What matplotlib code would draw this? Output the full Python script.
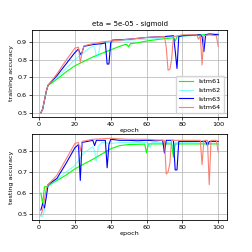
import matplotlib
matplotlib.use("Agg")
import matplotlib.pyplot as plt

# ---------------------------------------------------------------------------- #
# training accuracy (top panel)

train61_ep = [1, 2, 3, 4, 5, 8, 10, 15, 20, 25, 30, 35, 40, 45, 48, 49, 50, 51, 55, 60, 65, 70, 74, 75, 76, 77, 80, 85, 90, 95, 100]
train61 = [0.50, 0.52, 0.57, 0.62, 0.655, 0.675, 0.69, 0.73, 0.765, 0.79, 0.815, 0.835, 0.855, 0.875, 0.885, 0.885, 0.872, 0.89, 0.895, 0.905, 0.912, 0.918, 0.922, 0.924, 0.905, 0.928, 0.935, 0.937, 0.94, 0.942, 0.944]

train62_ep = [1, 2, 3, 4, 5, 10, 15, 20, 25, 28, 30, 31, 32, 33, 34, 35, 40, 45, 50, 55, 60, 65, 70, 75, 80, 85, 90, 95, 100]
train62 = [0.50, 0.52, 0.57, 0.62, 0.655, 0.70, 0.75, 0.80, 0.84, 0.865, 0.875, 0.87, 0.818, 0.82, 0.875, 0.89, 0.90, 0.905, 0.91, 0.912, 0.915, 0.918, 0.925, 0.93, 0.932, 0.935, 0.937, 0.94, 0.94]

train63_ep = [1, 2, 3, 4, 5, 10, 15, 20, 22, 23, 24, 25, 30, 35, 37, 38, 39, 40, 41, 45, 50, 55, 60, 65, 70, 75, 76, 77, 78, 80, 85, 90, 91, 92, 93, 95, 100]
train63 = [0.50, 0.52, 0.57, 0.62, 0.655, 0.71, 0.775, 0.84, 0.86, 0.83, 0.84, 0.875, 0.885, 0.89, 0.895, 0.775, 0.775, 0.895, 0.91, 0.912, 0.915, 0.92, 0.925, 0.928, 0.93, 0.935, 0.85, 0.75, 0.93, 0.935, 0.938, 0.94, 0.93, 0.845, 0.94, 0.945, 0.94]

train64_ep = [1, 2, 3, 4, 5, 10, 15, 20, 22, 23, 24, 25, 30, 35, 40, 45, 50, 55, 60, 65, 70, 71, 72, 73, 74, 75, 80, 85, 88, 89, 90, 91, 92, 95, 99, 100]
train64 = [0.50, 0.52, 0.57, 0.62, 0.655, 0.72, 0.795, 0.865, 0.87, 0.785, 0.84, 0.878, 0.89, 0.90, 0.905, 0.91, 0.915, 0.92, 0.925, 0.928, 0.93, 0.87, 0.74, 0.745, 0.80, 0.93, 0.94, 0.94, 0.94, 0.915, 0.935, 0.77, 0.935, 0.94, 0.935, 0.875]

# testing accuracy (bottom panel)

test61_ep = [1, 2, 3, 4, 5, 10, 15, 20, 25, 30, 35, 40, 45, 50, 55, 59, 60, 61, 65, 70, 74, 75, 76, 80, 90, 100]
test61 = [0.60, 0.55, 0.63, 0.63, 0.635, 0.66, 0.685, 0.715, 0.738, 0.76, 0.785, 0.81, 0.825, 0.83, 0.831, 0.832, 0.79, 0.833, 0.833, 0.833, 0.833, 0.77, 0.833, 0.833, 0.833, 0.833]

test62_ep = [1, 2, 3, 4, 5, 10, 15, 20, 25, 30, 31, 32, 33, 35, 40, 45, 50, 55, 60, 61, 62, 63, 70, 74, 75, 76, 80, 90, 100]
test62 = [0.49, 0.49, 0.52, 0.60, 0.63, 0.665, 0.70, 0.73, 0.79, 0.82, 0.80, 0.75, 0.82, 0.84, 0.835, 0.84, 0.84, 0.84, 0.84, 0.835, 0.815, 0.84, 0.84, 0.84, 0.80, 0.84, 0.84, 0.838, 0.835]

test63_ep = [1, 2, 3, 4, 5, 10, 15, 20, 22, 23, 24, 30, 31, 32, 37, 38, 39, 40, 45, 50, 55, 60, 65, 69, 70, 71, 75, 76, 77, 78, 80, 85, 90, 93, 94, 95, 100]
test63 = [0.52, 0.55, 0.53, 0.58, 0.64, 0.67, 0.74, 0.815, 0.83, 0.66, 0.84, 0.85, 0.825, 0.85, 0.85, 0.72, 0.83, 0.855, 0.85, 0.85, 0.848, 0.85, 0.848, 0.85, 0.79, 0.85, 0.85, 0.71, 0.71, 0.845, 0.845, 0.845, 0.845, 0.845, 0.825, 0.845, 0.845]

test64_ep = [1, 2, 3, 4, 5, 10, 15, 20, 22, 23, 24, 30, 35, 40, 45, 50, 55, 60, 65, 70, 71, 72, 73, 74, 80, 85, 90, 91, 92, 94, 95, 96, 99, 100]
test64 = [0.495, 0.52, 0.57, 0.62, 0.64, 0.685, 0.76, 0.835, 0.84, 0.80, 0.845, 0.855, 0.857, 0.86, 0.857, 0.855, 0.855, 0.855, 0.852, 0.85, 0.69, 0.70, 0.74, 0.85, 0.85, 0.85, 0.85, 0.735, 0.85, 0.85, 0.64, 0.85, 0.85, 0.795]

labels = ["lstm61", "lstm62", "lstm63", "lstm64"]
colors = ["lime", "cyan", "blue", "salmon"]
alphas = [1.0, 0.5, 1.0, 1.0]

# ---------------------------------------------------------------------------- #

plt.rcParams["font.size"] = 4.6
fig = plt.figure(figsize=(2.52, 2.52), dpi=100)
ax1 = fig.add_axes([0.127, 0.537, 0.774, 0.344])
ax2 = fig.add_axes([0.127, 0.126, 0.774, 0.341])

train = [(train61_ep, train61), (train62_ep, train62), (train63_ep, train63), (train64_ep, train64)]
test = [(test61_ep, test61), (test62_ep, test62), (test63_ep, test63), (test64_ep, test64)]

for (ep, val), lab, col, al in zip(train, labels, colors, alphas):
    ax1.plot(ep, val, color=col, alpha=al, linewidth=0.8, label=lab)
for (ep, val), col, al in zip(test, colors, alphas):
    ax2.plot(ep, val, color=col, alpha=al, linewidth=0.8)

ax1.set_title("eta = 5e-05 - sigmoid", fontsize=5, pad=3)
ax1.set_ylabel("training accuracy", labelpad=2)
ax1.set_xlabel("epoch", labelpad=1)
ax1.legend(loc="lower right", fontsize=4.6, handlelength=2.2, borderpad=0.5, labelspacing=0.5)

ax2.set_ylabel("testing accuracy", labelpad=2)
ax2.set_xlabel("epoch", labelpad=1)

for ax in (ax1, ax2):
    ax.grid(True, linewidth=0.5)
    ax.tick_params(length=2, width=0.5, pad=1.5)
    for s in ax.spines.values():
        s.set_linewidth(0.6)

ax1.set_yticks([0.5, 0.6, 0.7, 0.8, 0.9])
ax2.set_yticks([0.5, 0.6, 0.7, 0.8])

fig.savefig("out.png", dpi=100)
